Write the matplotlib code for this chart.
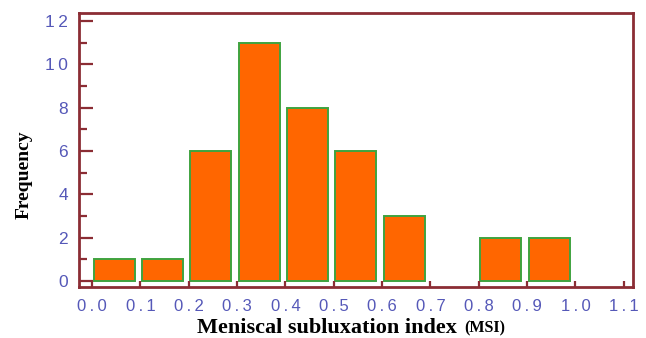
import numpy as np
import matplotlib.pyplot as plt
from matplotlib.ticker import MultipleLocator

# histogram of meniscal subluxation index, bins of width 0.1
bin_left = [0.0, 0.1, 0.2, 0.3, 0.4, 0.5, 0.6, 0.7, 0.8, 0.9]
counts = [1, 1, 6, 11, 8, 6, 3, 0, 2, 2]
x_ticks = [0.0, 0.1, 0.2, 0.3, 0.4, 0.5, 0.6, 0.7, 0.8, 0.9, 1.0, 1.1]
y_ticks = [0, 2, 4, 6, 8, 10, 12]

spine_col = '#8B2D34'
label_col = '#5558B8'
thin = '\u2009'

fig = plt.figure(figsize=(6.46, 3.38), dpi=100)
ax = fig.add_axes([0.1223, 0.1509, 0.8576, 0.8106])

# empty bins get no bar at all
left = np.array(bin_left)
h = np.array(counts)
keep = h > 0
ax.bar(left[keep] + 0.003, h[keep], width=0.085, align='edge',
       color='#FF6600', edgecolor='#3FA33F', linewidth=1.4)

ax.set_xlim(-0.027, 1.119)
ax.set_ylim(-0.28, 12.37)

# tick labels are letter-spaced a little
ax.set_xticks(x_ticks)
ax.set_xticklabels([thin.join(f'{v:.1f}') for v in x_ticks])
ax.set_yticks(y_ticks)
ax.set_yticklabels([thin.join(str(v)) for v in y_ticks])
ax.yaxis.set_minor_locator(MultipleLocator(1))

for s in ax.spines.values():
    s.set_color(spine_col)
    s.set_linewidth(2)

ax.tick_params(axis='y', which='major', direction='in', length=10, width=1.6,
               color=spine_col, labelcolor=label_col, labelsize=12.5, pad=8)
ax.tick_params(axis='y', which='minor', direction='in', length=6, width=1.6,
               color=spine_col)
ax.tick_params(axis='x', which='major', direction='in', length=4, width=1.6,
               color=spine_col, labelcolor=label_col, labelsize=12, pad=9)
for lbl in ax.get_xticklabels() + ax.get_yticklabels():
    lbl.set_family(['Liberation Sans', 'DejaVu Sans'])

fig.text(0.305, 0.016, 'Meniscal subluxation index', family='Liberation Serif',
         fontweight='bold', fontsize=16, ha='left', va='baseline')
fig.text(0.718, 0.016, '(MSI)', family='Liberation Serif',
         fontweight='bold', fontsize=11.5, ha='left', va='baseline')
fig.text(0.037, 0.482, 'Frequency', family='Liberation Serif', fontweight='bold',
         fontsize=14, rotation=90, ha='center', va='center')

fig.savefig('out.png', dpi=100)
